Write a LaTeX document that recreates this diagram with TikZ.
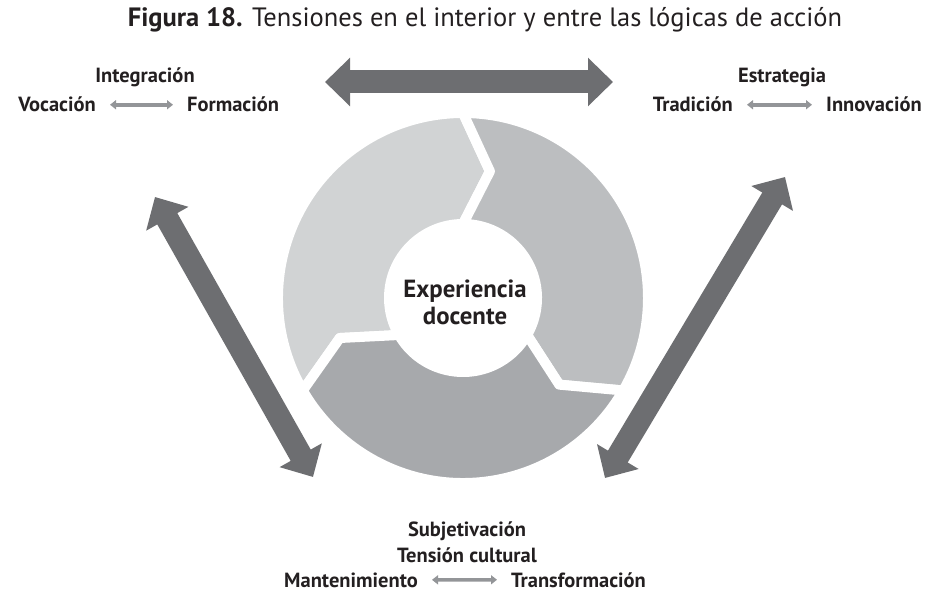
\documentclass[tikz,border=0pt]{standalone}
\usepackage{fontspec}
\setmainfont{PT Sans}
\usetikzlibrary{positioning}
\usetikzlibrary{arrows.meta}
\definecolor{txt}{HTML}{231F20}
\definecolor{dark}{HTML}{6D6E71}
\definecolor{pale}{HTML}{939598}
\definecolor{segA}{HTML}{D1D3D4}
\definecolor{segB}{HTML}{BCBEC0}
\definecolor{segC}{HTML}{A7A9AC}

\begin{document}
\begin{tikzpicture}[x=1pt,y=1pt,
    lbl/.style={font=\fontsize{20.5}{25}\selectfont\bfseries, text=txt, inner sep=0pt},
    fat/.style={dark, line width=23pt, {Triangle[width=47pt,length=25pt]}-{Triangle[width=47pt,length=25pt]}},
    pairarrow/.style={pale, line width=3.5pt, {Triangle[width=9pt,length=6pt]}-{Triangle[width=9pt,length=6pt]}, shorten <=14pt, shorten >=14pt},
    seg/.style={draw=white, line width=10pt, line join=round}]
          \useasboundingbox (0,0) rectangle (925,591);
          % cycle
          \begin{scope}[shift={(463,293)}]
            \path[seg, fill=segA] (210:185) arc[start angle=210, end angle=90, radius=185] -- (78:129.5) -- (90:74) arc[start angle=90, end angle=210, radius=74] -- (198:129.5) -- cycle;
            \path[seg, fill=segB] (90:185) arc[start angle=90, end angle=-30, radius=185] -- (-42:129.5) -- (-30:74) arc[start angle=-30, end angle=90, radius=74] -- (78:129.5) -- cycle;
            \path[seg, fill=segC] (-30:185) arc[start angle=-30, end angle=-150, radius=185] -- (-162:129.5) -- (-150:74) arc[start angle=-150, end angle=-30, radius=74] -- (-42:129.5) -- cycle;
          \end{scope}
          \node[font=\fontsize{24.8}{27}\selectfont\bfseries, text=txt, align=center, anchor=base] (exp) at (465,266) {Experiencia\\docente};
          % title
          \node[font=\fontsize{26.5}{30}\selectfont, text=txt, anchor=base] (title) at (485,564) {\textbf{Figura 18.} Tensiones en el interior y entre las lógicas de acción};
          % left group
          \node[lbl, anchor=base] (integ) at (145,508) {Integración};
          \node[lbl, anchor=base east] (voc) at (96,479) {Vocación};
          \node[lbl, anchor=base west] (form) at (187,479) {Formación};
          \draw[pairarrow] (voc.east) -- (form.west);
          % right group
          \node[lbl, anchor=base] (estr) at (782,508) {Estrategia};
          \node[lbl, anchor=base east] (trad) at (733,479) {Tradición};
          \node[lbl, anchor=base west] (innov) at (826,479) {Innovación};
          \draw[pairarrow] (trad.east) -- (innov.west);
          % bottom group
          \node[lbl, align=center, anchor=base] (subj) at (467,29) {Subjetivación\\Tensión cultural};
          \node[lbl, anchor=base east] (mant) at (418,4) {Mantenimiento};
          \node[lbl, anchor=base west] (transf) at (511,4) {Transformación};
          \draw[pairarrow] (mant.east) -- (transf.west);
          % tensions between the logics
          \coordinate (topL) at (325,509);
          \coordinate (topR) at (613,509);
          \coordinate (leftU) at (155,394);
          \coordinate (leftD) at (313,114);
          \coordinate (rightD) at (605,113);
          \coordinate (rightU) at (785,414);
          \draw[fat] (topL) -- (topR);
          \draw[fat] (leftU) -- (leftD);
          \draw[fat] (rightD) -- (rightU);
        \end{tikzpicture}
\end{document}
